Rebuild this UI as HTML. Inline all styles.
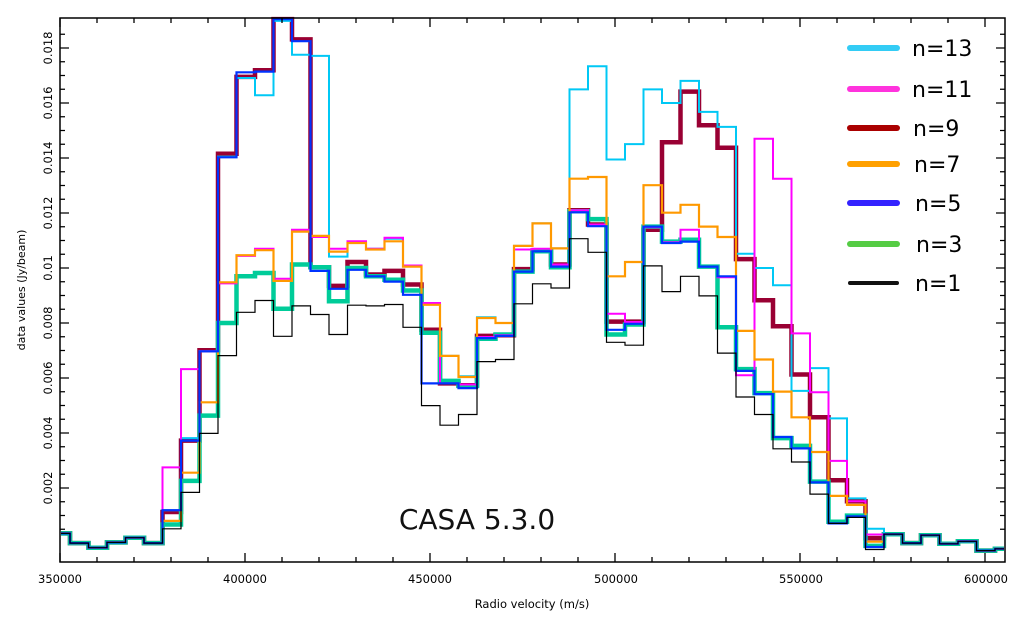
<!DOCTYPE html>
<html><head><meta charset="utf-8"><style>
html,body{margin:0;padding:0;background:#fff;}
svg{display:block;font-family:"DejaVu Sans","Liberation Sans",sans-serif;}
</style></head><body>
<svg id="s" width="1023" height="617" viewBox="0 0 1023 617" xmlns="http://www.w3.org/2000/svg">
<rect x="0" y="0" width="1023" height="617" fill="#fff"/>
<g id="series"></g>
<g id="axes" stroke="#000" stroke-width="1.3" fill="none"></g>
<rect x="60" y="18" width="945" height="544" fill="none" stroke="#000" stroke-width="1.5"/>
<g font-size="11.5" fill="#000" text-anchor="middle">
<text x="60" y="583">350000</text>
<text x="245" y="583">400000</text>
<text x="430" y="583">450000</text>
<text x="616" y="583">500000</text>
<text x="801" y="583">550000</text>
<text x="986" y="583">600000</text>
<text x="532" y="608">Radio velocity (m/s)</text>
</g>
<g id="ylab" font-size="11.5" fill="#000" text-anchor="middle"></g>
<text transform="translate(25,290) rotate(-90)" font-size="11" text-anchor="middle">data values (Jy/beam)</text>
<text x="477" y="529" font-size="28" text-anchor="middle" fill="#111">CASA 5.3.0</text>
<g id="legend"></g>
</svg>
<script>
var NS="http://www.w3.org/2000/svg";
function Y(z){return 18+(z-22)*0.3572;}
function edge(k){return k==0?61:(k==52?1004:70+18.5*(k-1));}
var base=[1465,1492,1505,1490,1477,1492];
var tail=[1467,1492,1470,1494,1487,1513,1508];
function mk(mid){return base.concat(mid).concat(tail);}
var D={
 c:mk([1400,1198,955,410,190,238,30,125,128,690,648,668,640,715,820,968,1025,860,876,660,597,667,222,157,418,375,222,260,198,285,327,682,722,770,1066,1002,1143,1367,1452]),
 m:mk([1280,1005,955,765,688,668,752,615,635,668,647,668,637,715,820,1045,1048,915,910,670,668,712,560,600,850,873,608,650,615,718,748,1022,360,472,905,1070,1262,1375,1468]),
 r:mk([1405,1205,952,402,187,168,25,82,720,772,705,740,730,768,895,1045,1050,912,910,725,673,712,560,600,872,872,615,370,228,322,385,697,812,885,1020,1140,1316,1375,1478]),
 o:mk([1430,1295,1098,762,686,672,758,620,632,676,652,670,647,718,825,968,1027,862,876,660,597,667,472,467,745,705,490,567,545,606,635,898,978,1068,1140,1237,1360,1385,1488]),
 b:mk([1400,1205,955,412,174,172,25,87,730,780,727,745,760,797,1045,1045,1058,918,912,732,675,718,566,605,895,878,606,652,648,718,745,1010,1075,1195,1227,1322,1437,1417,1503]),
 g:mk([1440,1318,1135,876,745,736,836,712,720,815,722,745,755,785,903,1038,1052,920,908,732,675,720,563,585,908,880,606,648,643,718,888,1005,1072,1198,1220,1320,1432,1415,1500]),
 k:mk([1452,1350,1185,967,846,813,913,828,852,908,826,828,824,888,1107,1162,1132,984,978,822,766,778,640,678,930,938,716,788,745,800,960,1083,1132,1228,1265,1355,1437,1420,1510])
};
var st={c:["#00c8f5",2],m:["#ff00ff",2],r:["#990033",4.5],o:["#ff9900",2.2],b:["#0033ff",2.2],g:["#00cc99",4.5],k:["#000",1.2]};
var order=["r","g","c","m","o","b","k"];
var G=document.getElementById("series");
order.forEach(function(s){
 var v=D[s],d="";
 for(var i=0;i<v.length;i++){var y=Y(v[i]).toFixed(1);
  d+=(i==0?"M"+edge(0)+","+y:"V"+y)+"H"+edge(i+1);}
 var p=document.createElementNS(NS,"path");p.setAttribute("d",d);p.setAttribute("fill","none");
 p.setAttribute("stroke",st[s][0]);p.setAttribute("stroke-width",st[s][1]);p.setAttribute("stroke-linejoin","miter");
 G.appendChild(p);
});
var A=document.getElementById("axes"),a="";
for(var v=350000;v<=605000;v+=10000){var x=60+(v-350000)*185/50000;if(x>1004)break;
 var L=(v%50000==0)?9:5;a+="M"+x+",562v-"+L+"M"+x+",18v"+L;}
var yl=document.getElementById("ylab");
for(var q=1;q<=37;q++){var y=543-q*13.75;if(y<19)break;var L=(q%4==0)?9:5;
 a+="M60,"+y+"h"+L+"M1005,"+y+"h-"+L;
 if(q%4==0){var t=document.createElementNS(NS,"text");t.setAttribute("transform","translate(52,"+y+") rotate(-90)");
  t.textContent=(q*0.0005).toFixed(3).replace(/0+$/,"").replace(/\.$/,"");yl.appendChild(t);}}
var ap=document.createElementNS(NS,"path");ap.setAttribute("d",a);A.appendChild(ap);
var leg=[["#33ccf5","n=13",912,48],["#ff33dd","n=11",912,89],["#aa0000","n=9",913,128],["#ffa000","n=7",914,164],["#3322ff","n=5",915,203],["#55cc44","n=3",916,244],["#111","n=1",915,283]];
var LG=document.getElementById("legend");
leg.forEach(function(l){
 var ln=document.createElementNS(NS,"line");ln.setAttribute("x1",850);ln.setAttribute("x2",897);
 ln.setAttribute("y1",l[3]);ln.setAttribute("y2",l[3]);ln.setAttribute("stroke",l[0]);
 ln.setAttribute("stroke-width",l[1]=="n=1"?4:6);ln.setAttribute("stroke-linecap","round");LG.appendChild(ln);
 var t=document.createElementNS(NS,"text");t.setAttribute("x",l[2]);t.setAttribute("y",l[3]+8);
 t.setAttribute("font-size","22");t.textContent=l[1];LG.appendChild(t);});
</script>
</body></html>
